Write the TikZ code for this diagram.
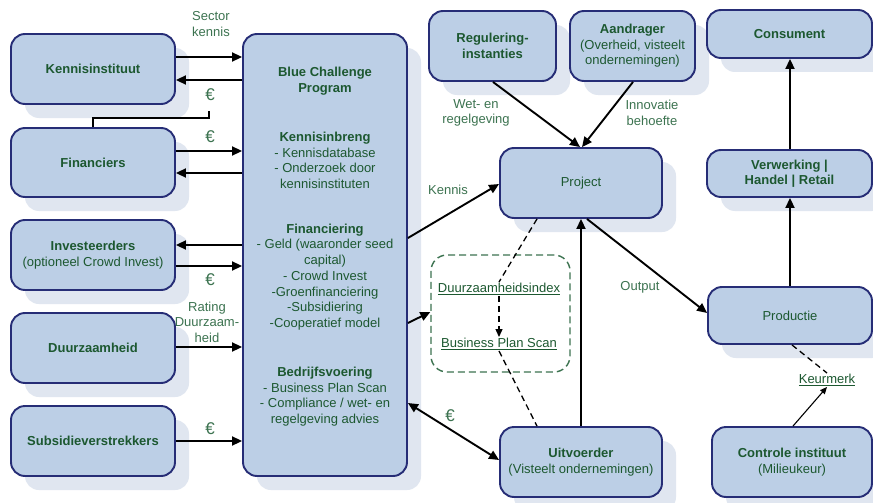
\documentclass[tikz,border=0pt]{standalone}
\usepackage{fontspec}
\setmainfont{Liberation Sans}
\usetikzlibrary{arrows.meta,shadows}
\definecolor{boxfill}{RGB}{188,207,230}
\definecolor{boxdraw}{RGB}{38,45,118}
\definecolor{shadowc}{RGB}{224,230,240}
\definecolor{txtgreen}{RGB}{28,88,48}
\definecolor{lblgreen}{RGB}{60,115,80}
\tikzset{
  box/.style={draw=boxdraw, line width=1.9pt, fill=boxfill, rounded corners=14pt,
    text=txtgreen, align=center, inner sep=2pt,
    font=\fontsize{13}{15.5}\selectfont,
    drop shadow={shadow xshift=14pt, shadow yshift=-14pt, fill=shadowc, opacity=1}},
  inbox/.style={text=txtgreen, align=center, inner sep=0pt, font=\fontsize{13}{15.7}\selectfont},
  lbl/.style={text=lblgreen, align=center, inner sep=1pt, font=\fontsize{13}{15.5}\selectfont},
  eur/.style={text=lblgreen, inner sep=1pt, font=\fontsize{17}{17}\selectfont},
  arr/.style={line width=1.9pt, -{Triangle[length=10pt,width=9pt]}},
  darr/.style={line width=1.9pt, {Triangle[length=10pt,width=9pt]}-{Triangle[length=10pt,width=9pt]}},
  thinarr/.style={line width=1.1pt, -{Triangle[length=7pt,width=6pt]}},
  dline/.style={line width=1.3pt, dash pattern=on 6pt off 4pt},
  grp/.style={draw=lblgreen, line width=1.4pt, dash pattern=on 7pt off 4pt, rounded corners=16pt},
}
\begin{document}
\begin{tikzpicture}[x=1pt,y=-1pt]
\useasboundingbox[fill=white] (0,0) rectangle (873,503);
% left column
\node[box, minimum width=164pt, minimum height=70pt] (kenn) at (93,69) {\textbf{Kennisinstituut}};
\node[box, minimum width=164pt, minimum height=69pt] (fin) at (93,162.5) {\textbf{Financiers}};
\node[box, minimum width=164pt, minimum height=70pt] (inv) at (93,255) {\textbf{Investeerders}\\(optioneel Crowd Invest)};
\node[box, minimum width=164pt, minimum height=70pt] (duur) at (93,348) {\textbf{Duurzaamheid}};
\node[box, minimum width=164pt, minimum height=70pt] (sub) at (93,441) {\textbf{Subsidieverstrekkers}};
% big program box
\node[box, minimum width=164pt, minimum height=442pt] (bcp) at (325,255) {};
\node[inbox] (bcpa) at (325,81) {\textbf{Blue Challenge}\\\textbf{Program}};
\node[inbox] (bcpb) at (325,160.5) {\textbf{Kennisinbreng}\\- Kennisdatabase\\- Onderzoek door\\kennisinstituten};
\node[inbox] (bcpc) at (325,277) {\textbf{Financiering}\\- Geld (waaronder seed\\capital)\\- Crowd Invest\\-Groenfinanciering\\-Subsidiering\\-Cooperatief model};
\node[inbox] (bcpd) at (325,396.5) {\textbf{Bedrijfsvoering}\\- Business Plan Scan\\- Compliance / wet- en\\regelgeving advies};
% right part
\node[box, minimum width=127pt, minimum height=70pt] (reg) at (492.5,46) {\textbf{Regulering-}\\\textbf{instanties}};
\node[box, minimum width=125pt, minimum height=70pt] (aan) at (632.5,46) {\textbf{Aandrager}\\(Overheid, visteelt\\ondernemingen)};
\node[box, minimum width=165pt, minimum height=48pt] (cons) at (789.5,34) {\textbf{Consument}};
\node[box, minimum width=162pt, minimum height=70pt] (proj) at (581,183) {Project};
\node[box, minimum width=165pt, minimum height=47pt] (verw) at (789.5,173.5) {\textbf{Verwerking |}\\\textbf{Handel | Retail}};
\node[box, minimum width=164pt, minimum height=57pt] (prod) at (790,315.5) {Productie};
\node[box, minimum width=162pt, minimum height=70pt] (uitv) at (581,462) {\textbf{Uitvoerder}\\(Visteelt ondernemingen)};
\node[box, minimum width=160pt, minimum height=70pt] (ctrl) at (792,462) {\textbf{Controle instituut}\\(Milieukeur)};
% dashed group
\node[grp, minimum width=139pt, minimum height=117pt] (grpbox) at (500.5,313.5) {};
\node[lbl, text=txtgreen] (di) at (499,289) {\underline{Duurzaamheidsindex}};
\node[lbl, text=txtgreen] (bps) at (499,344) {\underline{Business Plan Scan}};
\node[lbl, text=txtgreen] (keur) at (827,380) {\underline{Keurmerk}};
% labels
\node[lbl] (lsk) at (211,24) {Sector\\kennis};
\node[lbl] (lrd) at (207,322) {Rating\\Duurzaam-\\heid};
\node[lbl] (lwr) at (476,113) {Wet- en\\regelgeving};
\node[lbl] (lib) at (652,113) {Innovatie\\behoefte};
\node[lbl] (lke) at (448,190) {Kennis};
\node[lbl] (lou) at (640,287) {Output};
\node[eur] (e1) at (210,95) {€};
\node[eur] (e2) at (210,137) {€};
\node[eur] (e3) at (210,280) {€};
\node[eur] (e4) at (210,429) {€};
\node[eur] (e5) at (450,416) {€};
\coordinate (e1foot) at (209,111);
% left arrows
\draw[arr] (kenn.east |- 0,57) -- (bcp.west |- 0,57);
\draw[arr] (bcp.west |- 0,80) -- (kenn.east |- 0,80);
\draw[line width=1.3pt] (fin.north) -- (93,118) -| (e1foot);
\draw[arr] (fin.east |- 0,151) -- (bcp.west |- 0,151);
\draw[arr] (bcp.west |- 0,173) -- (fin.east |- 0,173);
\draw[arr] (bcp.west |- 0,245) -- (inv.east |- 0,245);
\draw[arr] (inv.east |- 0,266) -- (bcp.west |- 0,266);
\draw[arr] (duur.east |- 0,347) -- (bcp.west |- 0,347);
\draw[arr] (sub.east |- 0,441) -- (bcp.west |- 0,441);
% program to right
\draw[arr] (bcp.east |- 0,238) -- (proj.west |- 0,184);
\draw[arr] (bcp.east |- 0,323) -- (grpbox.west |- 0,312);
\draw[darr] (bcp.east |- 0,403) -- (uitv.west |- 0,460);
% project arrows
\draw[arr] (reg.south -| 493,0) -- (proj.north -| 580,0);
\draw[arr] (aan.south -| 633,0) -- (proj.north -| 582,0);
\draw[arr] (uitv.north -| 581,0) -- (proj.south -| 581,0);
\draw[arr] (proj.south -| 587,0) -- (prod.west |- 0,313);
\draw[dline] (proj.south -| 537,0) -- (di.north);
\draw[dline, -{Triangle[length=8pt,width=7pt]}] (di.south) -- (bps.north);
\draw[dline] (bps.south) -- (uitv.north -| 537,0);
% right column
\draw[arr] (prod.north -| 790,0) -- (verw.south -| 790,0);
\draw[arr] (verw.north -| 790,0) -- (cons.south -| 790,0);
\draw[dline] (prod.south -| 792,0) -- (keur.north);
\draw[thinarr] (ctrl.north -| 793,0) -- (keur.south);
\end{tikzpicture}
\end{document}
